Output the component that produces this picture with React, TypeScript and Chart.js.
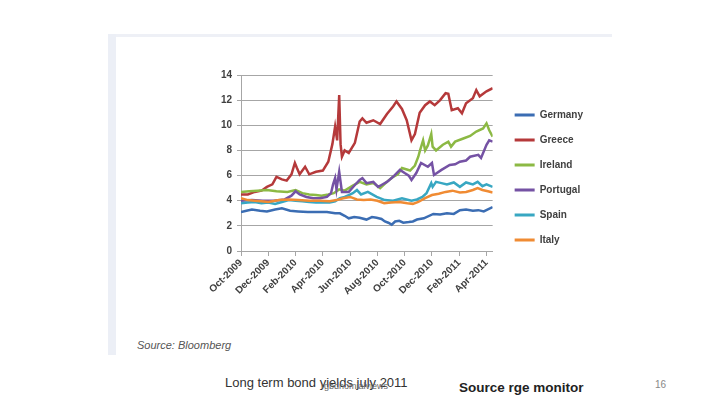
import React, { useEffect, useRef } from "react";
import { Chart, registerables } from "chart.js";

Chart.register(...registerables);

const seriesNames = ["Germany", "Greece", "Ireland", "Portugal", "Spain", "Italy"];
const seriesColors = ["#3b6db3", "#b5393a", "#8cb944", "#7552a4", "#38a7c2", "#f08b33"];

const tickMonths = [0, 2, 4, 6, 8, 10, 12, 14, 16, 18];
const tickLabels = ["Oct-2009", "Dec-2009", "Feb-2010", "Apr-2010", "Jun-2010", "Aug-2010", "Oct-2010", "Dec-2010", "Feb-2011", "Apr-2011"];

const germanyX = [0, 0.4, 0.8, 1.4, 1.9, 2.5, 3.0, 3.6, 4.2, 4.9, 5.6, 6.3, 6.9, 7.25, 7.6, 7.9, 8.3, 8.7, 9.2, 9.6, 9.95, 10.3, 10.55, 10.8, 11.05, 11.3, 11.6, 11.9, 12.3, 12.6, 12.9, 13.4, 14.1, 14.6, 15.1, 15.6, 16.05, 16.5, 17.0, 17.4, 17.8, 18.45];
const germanyY = [3.1, 3.2, 3.3, 3.2, 3.15, 3.3, 3.4, 3.2, 3.15, 3.1, 3.1, 3.1, 3.0, 3.0, 2.8, 2.6, 2.7, 2.65, 2.5, 2.7, 2.65, 2.55, 2.35, 2.25, 2.1, 2.35, 2.4, 2.25, 2.3, 2.35, 2.5, 2.6, 2.95, 2.9, 3.0, 2.95, 3.25, 3.3, 3.2, 3.25, 3.15, 3.5];

const greeceX = [0, 0.5, 1, 1.5, 1.9, 2.3, 2.6, 3.0, 3.35, 3.7, 3.95, 4.1, 4.3, 4.7, 5.0, 5.5, 6.0, 6.4, 6.7, 6.9, 7.05, 7.2, 7.3, 7.4, 7.6, 7.9, 8.35, 8.7, 8.9, 9.2, 9.7, 10.2, 10.7, 11.15, 11.4, 11.8, 12.15, 12.5, 12.75, 13.1, 13.5, 13.85, 14.2, 14.6, 15.0, 15.2, 15.45, 15.9, 16.2, 16.5, 17.0, 17.25, 17.5, 18.0, 18.45];
const greeceY = [4.5, 4.5, 4.7, 4.8, 5.1, 5.3, 5.9, 5.7, 5.6, 6.1, 7.0, 6.6, 6.1, 6.7, 6.1, 6.3, 6.4, 7.1, 8.5, 9.9, 8.8, 12.4, 8.5, 7.5, 8.0, 7.8, 8.6, 10.3, 10.55, 10.2, 10.4, 10.1, 10.9, 11.5, 11.9, 11.3, 10.4, 8.8, 9.3, 11.0, 11.6, 11.9, 11.6, 12.0, 12.55, 12.5, 11.2, 11.35, 10.95, 11.75, 12.15, 12.8, 12.3, 12.7, 12.95];

const irelandX = [0, 0.6, 1.2, 1.9, 2.6, 3.4, 4.0, 4.5, 5.0, 5.5, 5.9, 6.4, 6.8, 7.2, 7.6, 8.2, 8.7, 9.2, 9.7, 10.2, 10.7, 11.15, 11.5, 11.8, 12.1, 12.4, 12.75, 13.0, 13.1, 13.35, 13.5, 13.7, 13.95, 14.05, 14.3, 14.8, 15.2, 15.4, 15.7, 16.3, 16.8, 17.25, 17.75, 18.0, 18.2, 18.45];
const irelandY = [4.7, 4.75, 4.8, 4.85, 4.75, 4.7, 4.85, 4.6, 4.5, 4.45, 4.4, 4.5, 4.6, 4.9, 4.8, 5.2, 5.5, 5.3, 5.4, 5.0, 5.5, 5.9, 6.1, 6.6, 6.5, 6.4, 6.8, 7.5, 7.9, 8.8, 8.0, 8.4, 9.3, 8.3, 8.0, 8.45, 8.7, 8.3, 8.7, 8.95, 9.15, 9.5, 9.75, 10.15, 9.6, 9.1];

const portugalX = [0, 0.8, 1.6, 2.4, 3.2, 3.7, 4.0, 4.3, 4.8, 5.3, 5.8, 6.3, 6.6, 6.75, 6.9, 7.0, 7.2, 7.4, 7.9, 8.35, 8.7, 8.9, 9.2, 9.7, 10.05, 10.3, 10.7, 11.15, 11.65, 12.0, 12.3, 12.5, 12.85, 13.2, 13.7, 14.0, 14.15, 14.7, 15.3, 15.7, 16.05, 16.5, 16.8, 17.4, 17.6, 18.0, 18.2, 18.45];
const portugalY = [4.0, 4.05, 4.0, 4.0, 4.1, 4.4, 4.75, 4.5, 4.3, 4.2, 4.2, 4.3, 4.6, 5.3, 5.8, 4.9, 6.3, 4.7, 4.7, 5.25, 5.65, 5.8, 5.4, 5.5, 5.1, 5.25, 5.5, 5.9, 6.45, 6.2, 6.0, 5.65, 6.2, 7.0, 6.7, 7.0, 6.05, 6.45, 6.85, 6.9, 7.1, 7.2, 7.5, 7.65, 7.4, 8.45, 8.8, 8.7];

const spainX = [0, 0.5, 1.0, 1.5, 2.0, 2.5, 3.0, 3.5, 4.0, 4.5, 5.0, 5.5, 6.0, 6.5, 6.9, 7.25, 7.6, 7.9, 8.2, 8.5, 8.8, 9.3, 9.95, 10.55, 11.15, 11.8, 12.5, 12.9, 13.3, 13.6, 13.95, 14.05, 14.3, 14.7, 15.1, 15.6, 16.05, 16.5, 17.0, 17.35, 17.7, 18.0, 18.45];
const spainY = [3.8, 3.85, 3.9, 3.8, 3.85, 3.75, 3.9, 4.05, 4.0, 3.95, 3.9, 3.85, 3.85, 3.85, 3.95, 4.2, 4.3, 4.45, 4.6, 4.85, 4.5, 4.7, 4.3, 4.05, 4.0, 4.2, 4.0, 4.1, 4.3, 4.6, 5.4, 5.1, 5.5, 5.4, 5.3, 5.45, 5.1, 5.45, 5.3, 5.5, 5.15, 5.3, 5.1];

const italyX = [0, 0.5, 1.0, 1.5, 2.0, 2.8, 3.5, 4.2, 5.0, 5.8, 6.5, 7.0, 7.5, 8.0, 8.5, 9.0, 9.5, 10.0, 10.5, 11.0, 11.6, 12.2, 12.6, 13.0, 13.5, 14.0, 14.5, 15.0, 15.5, 16.05, 16.5, 17.0, 17.35, 17.7, 18.1, 18.45];
const italyY = [4.2, 4.05, 4.0, 3.95, 3.9, 4.05, 4.1, 4.05, 4.0, 4.0, 3.95, 4.05, 4.2, 4.3, 4.1, 4.05, 4.1, 4.0, 3.8, 3.85, 3.9, 3.8, 3.75, 3.9, 4.2, 4.45, 4.55, 4.7, 4.8, 4.65, 4.7, 4.85, 5.0, 4.85, 4.75, 4.65];

const seriesX = [germanyX, greeceX, irelandX, portugalX, spainX, italyX];
const seriesY = [germanyY, greeceY, irelandY, portugalY, spainY, italyY];

const FONT = "'Liberation Sans', Arial, sans-serif";

function BondChart() {
  const ref = useRef<HTMLCanvasElement | null>(null);
  useEffect(() => {
    if (!ref.current) return;
    const datasets = seriesNames.map((name, i) => ({
      label: name,
      data: seriesX[i].map((x, j) => ({ x, y: seriesY[i][j] })),
      borderColor: seriesColors[i],
      backgroundColor: seriesColors[i],
      borderWidth: 2.5,
      pointRadius: 0,
      tension: 0,
      order: seriesNames.length - i,
    }));
    const chart = new Chart(ref.current, {
      type: "line",
      data: { datasets },
      options: {
        animation: false,
        responsive: false,
        layout: { padding: { top: 15, left: 0, right: 0, bottom: 0 } },
        plugins: {
          tooltip: { enabled: false },
          legend: {
            position: "right",
            align: "start",
            maxWidth: 140,
            title: { display: true, text: " ", font: { size: 10, family: FONT }, padding: { top: 4, bottom: 4 } },
            labels: {
              boxWidth: 20,
              boxHeight: 3,
              padding: 15,
              color: "#404040",
              font: { size: 10, weight: "bold", family: FONT },
              sort: (a: any, b: any) => a.datasetIndex - b.datasetIndex,
              generateLabels: (c: any) =>
                (Chart.defaults.plugins.legend.labels.generateLabels as any)(c).map((l: any) => ({ ...l, lineWidth: 0 })),
            },
          },
        },
        scales: {
          x: {
            type: "linear",
            min: 0,
            max: 18.45,
            afterBuildTicks: (scale: any) => {
              scale.ticks = tickMonths.map((v) => ({ value: v }));
            },
            afterFit: (scale: any) => {
              scale.height = 55;
            },
            grid: { drawOnChartArea: false, drawTicks: true, tickLength: 5, color: "#a6a6a6" },
            border: { color: "#a6a6a6" },
            ticks: {
              autoSkip: false,
              maxRotation: 45,
              minRotation: 45,
              padding: 1,
              color: "#404040",
              font: { size: 10, weight: "bold", family: FONT },
              callback: (_v: any, i: number) => tickLabels[i],
            },
          },
          y: {
            min: 0,
            max: 14,
            afterFit: (scale: any) => {
              scale.width = 41;
            },
            grid: { color: "#a6a6a6", lineWidth: 1, tickLength: 4 },
            border: { color: "#a6a6a6" },
            ticks: {
              stepSize: 2,
              padding: 5,
              color: "#404040",
              font: { size: 10, weight: "bold", family: FONT },
            },
          },
          y2: {
            position: "right",
            display: true,
            grid: { display: false, drawTicks: false },
            border: { display: false },
            ticks: { display: false },
            afterFit: (scale: any) => {
              scale.width = 7;
            },
          },
        },
      },
    } as any);
    return () => chart.destroy();
  }, []);
  return (
    <canvas
      ref={ref}
      width={393}
      height={246}
      style={{ position: "absolute", left: 200, top: 60, width: 393, height: 246, display: "block" }}
    />
  );
}

export default function App() {
  return (
    <div style={{ position: "fixed", left: 0, top: 0, width: 720, height: 405, background: "#ffffff", overflow: "hidden", fontFamily: FONT }}>
      <div style={{ position: "absolute", left: 108, top: 34, width: 504, height: 3, background: "#eef0f6" }} />
      <div style={{ position: "absolute", left: 108, top: 34, width: 8, height: 321, background: "#eceff6" }} />
      <BondChart />
      <div style={{ position: "absolute", left: 137, top: 339, fontSize: 11, fontStyle: "italic", color: "#555", whiteSpace: "nowrap" }}>
        Source: Bloomberg
      </div>
      <div style={{ position: "absolute", left: 225, top: 375, fontSize: 13, color: "#333", whiteSpace: "nowrap" }}>
        Long term bond yields july 2011
      </div>
      <div style={{ position: "absolute", left: 321, top: 381, fontSize: 9, color: "#666", whiteSpace: "nowrap" }}>
        rgbdnomialviews
      </div>
      <div style={{ position: "absolute", left: 459, top: 380, fontSize: 13.5, fontWeight: "bold", color: "#222", whiteSpace: "nowrap" }}>
        Source rge monitor
      </div>
      <div style={{ position: "absolute", left: 655, top: 379, fontSize: 10, color: "#888", whiteSpace: "nowrap" }}>
        16
      </div>
    </div>
  );
}
